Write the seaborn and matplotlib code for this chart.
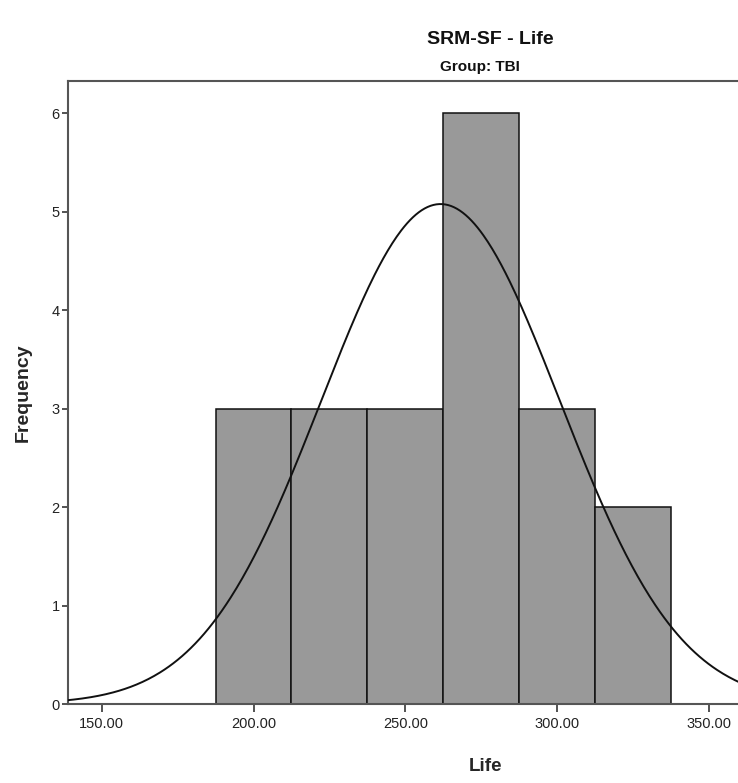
import numpy as np
import pandas as pd
import matplotlib
matplotlib.use("Agg")
import matplotlib.pyplot as plt
import seaborn as sns

# Histogram of Life scores (SRM-SF), TBI group
bin_edges = [187.5, 212.5, 237.5, 262.5, 287.5, 312.5, 337.5]
counts = [3, 3, 3, 6, 3, 2]
mean_life = 261.6
sd_life = 39.3
n_cases = sum(counts)

x_ticks = [150, 200, 250, 300, 350]
y_ticks = [0, 1, 2, 3, 4, 5, 6]

sns.set_theme(style="white")
plt.rcParams["font.family"] = ["Liberation Sans", "DejaVu Sans"]

fig = plt.figure(figsize=(7.38, 7.83), dpi=100)
ax = fig.add_axes([68 / 738, 79 / 783, 834 / 738, 623 / 783])

centers = [(a + b) / 2 for a, b in zip(bin_edges[:-1], bin_edges[1:])]
hist_df = pd.DataFrame({"Life": centers, "count": counts})
sns.histplot(data=hist_df, x="Life", weights="count", bins=bin_edges,
             color="#999999", edgecolor="#111111", linewidth=1.1, alpha=1.0,
             ax=ax, zorder=2)

# Fitted normal curve scaled to frequency
bin_width = bin_edges[1] - bin_edges[0]
xs = np.linspace(130, 420, 600)
ys = n_cases * bin_width * np.exp(-0.5 * ((xs - mean_life) / sd_life) ** 2) / (sd_life * np.sqrt(2 * np.pi))
sns.lineplot(x=xs, y=ys, color="#111111", linewidth=1.4, ax=ax, zorder=3)

ax.set_xlim(138.9, 413.6)
ax.set_ylim(0, 6.325)
ax.set_xticks(x_ticks)
ax.set_xticklabels([f"{v:.2f}" for v in x_ticks], fontsize=10.5, color="#222222")
ax.set_yticks(y_ticks)
ax.set_yticklabels([str(v) for v in y_ticks], fontsize=10.5, color="#222222")
ax.tick_params(axis="x", direction="out", length=6, width=1.3, color="#444444", pad=3, bottom=True)
ax.tick_params(axis="y", direction="out", length=4, width=1.3, color="#444444", pad=2, left=True)

for side in ["left", "bottom", "top", "right"]:
    ax.spines[side].set_visible(True)
    ax.spines[side].set_color("#555555")
    ax.spines[side].set_linewidth(1.5)

ax.set_xlabel("Life", fontsize=13.5, fontweight="bold", labelpad=20)
ax.set_ylabel("Frequency", fontsize=14, fontweight="bold", labelpad=14)
ax.grid(False)

fig.text(490 / 738, 1 - 40 / 783, "SRM-SF - Life", ha="center", va="center",
         fontsize=14, fontweight="bold", color="#111111")
fig.text(480 / 738, 1 - 67 / 783, "Group: TBI", ha="center", va="center",
         fontsize=11, fontweight="bold", color="#111111")

fig.savefig("out.png", dpi=100)
